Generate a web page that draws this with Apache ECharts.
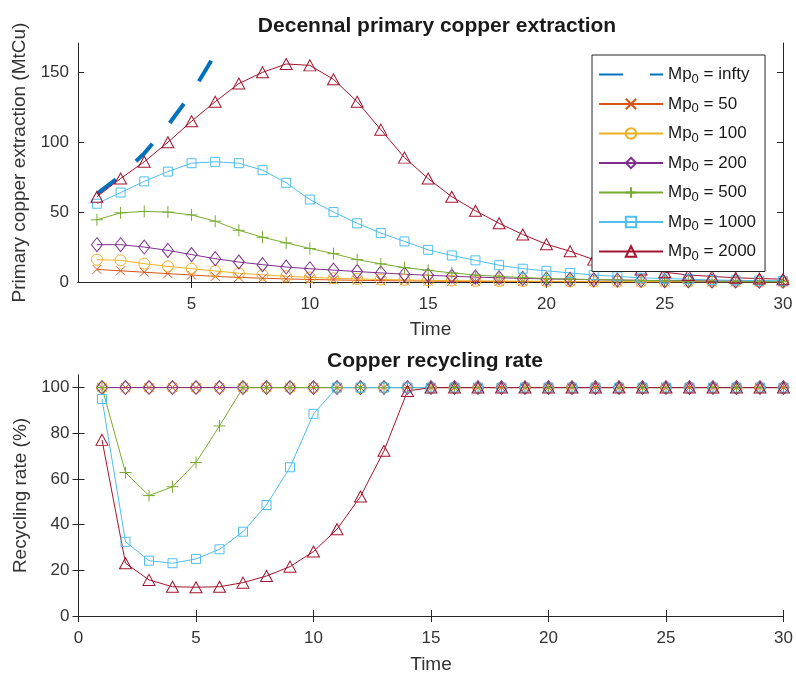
<!DOCTYPE html>
<html>
<head>
<meta charset="utf-8">
<script src="https://cdn.jsdelivr.net/npm/echarts@6/dist/echarts.min.js"></script>
<style>
html,body{margin:0;padding:0;background:#fff;}
#c{width:796px;height:679px;}
</style>
</head>
<body>
<div id="c"></div>
<script>
// ---------- DATA ----------
var time = [1,2,3,4,5,6,7,8,9,10,11,12,13,14,15,16,17,18,19,20,21,22,23,24,25,26,27,28,29,30];
var legendLabels = ['infty','50','100','200','500','1000','2000'];
var topTitle = 'Decennal primary copper extraction';
var bottomTitle = 'Copper recycling rate';
var topXTicks = [5,10,15,20,25,30];
var topYTicks = [0,50,100,150];
var bottomYTicks = [0,20,40,60,80,100];

// Primary copper extraction (MtCu)
var extInfty = [63, 76, 92, 112, 135, 163, 197];
var ext50   = [9, 8, 7, 6, 5, 4, 3.3, 2.7, 2.2, 1.8, 1.5, 1.2, 1, 0.8, 0.65, 0.5, 0.4, 0.35, 0.3, 0.25, 0.2, 0.15, 0.12, 0.1, 0.08, 0.07, 0.06, 0.05, 0.04, 0.03];
var ext100  = [16, 15.5, 13.1, 11.2, 9.5, 7.9, 6.3, 5.1, 4.1, 3.3, 2.7, 2.2, 1.8, 1.5, 1.2, 1, 0.8, 0.7, 0.6, 0.5, 0.4, 0.35, 0.3, 0.25, 0.2, 0.2, 0.15, 0.15, 0.1, 0.1];
var ext200  = [26.7, 26.7, 25, 22.6, 19.6, 16.7, 14.3, 12.4, 10.7, 9.5, 8.5, 7.5, 6.5, 5.6, 4.8, 4.1, 3.5, 3, 2.6, 2.2, 1.9, 1.6, 1.4, 1.2, 1, 0.9, 0.8, 0.7, 0.6, 0.5];
var ext500  = [44.5, 49.5, 50.5, 50, 48, 43.5, 37, 32, 28, 24, 20.3, 16, 13, 10.3, 8.4, 6.5, 5, 4, 3.2, 2.6, 2.1, 1.7, 1.4, 1.1, 0.9, 0.7, 0.6, 0.5, 0.4, 0.3];
var ext1000 = [56, 64, 72, 79, 85, 86, 85, 80, 71, 59, 50, 42, 35, 29, 23, 19, 15.5, 12, 9.5, 8, 6.5, 5, 4, 3, 2.5, 2, 1.5, 1.2, 1, 0.8];
var ext2000 = [61, 74, 86, 100, 115, 129, 142, 150, 156, 155, 145, 129, 109, 89, 74, 61, 51, 42, 34, 27, 22, 16, 12, 9, 7, 5, 4, 3, 2.5, 2];

// Recycling rate (%)
var rec50   = [100,100,100,100,100,100,100,100,100,100,100,100,100,100,100,100,100,100,100,100,100,100,100,100,100,100,100,100,100,100];
var rec100  = [100,100,100,100,100,100,100,100,100,100,100,100,100,100,100,100,100,100,100,100,100,100,100,100,100,100,100,100,100,100];
var rec200  = [100,100,100,100,100,100,100,100,100,100,100,100,100,100,100,100,100,100,100,100,100,100,100,100,100,100,100,100,100,100];
var rec500  = [100, 62.8, 52.7, 56.6, 67.2, 83.2, 100,100,100,100,100,100,100,100,100,100,100,100,100,100,100,100,100,100,100,100,100,100,100,100];
var rec1000 = [95, 32.5, 24.2, 23.1, 25, 29.2, 36.9, 48.6, 65.1, 88.5, 100,100,100,100,100,100,100,100,100,100,100,100,100,100,100,100,100,100,100,100];
var rec2000 = [77.1, 23.1, 15.8, 12.8, 12.6, 12.8, 14.6, 17.5, 21.6, 28.2, 38, 52.3, 72.3, 98.5, 100,100,100,100,100,100,100,100,100,100,100,100,100,100,100,100];

// ---------- STYLE ----------
var FONT = '"Liberation Sans", Arial, Helvetica, sans-serif';
var AX = '#262626';
var TXT = '#333333';
var colors = {
  infty: '#0072BD', m50: '#D95319', m100: '#EDB120', m200: '#7E2F8E',
  m500: '#77AC30', m1000: '#4DBEEE', m2000: '#A2142F'
};
var symbols = {
  m50:  {symbol: 'path://M0,0L10,10M10,0L0,10', size: 9},
  m100: {symbol: 'circle', size: 11},
  m200: {symbol: 'diamond', size: [11,14]},
  m500: {symbol: 'path://M5,0L5,10M0,5L10,5', size: 12},
  m1000:{symbol: 'rect', size: 9},
  m2000:{symbol: 'triangle', size: [12,11]}
};

function pairs(vals) {
  var out = [];
  for (var i = 0; i < vals.length; i++) out.push([time[i], vals[i]]);
  return out;
}
function seriesName(lbl) { return 'Mp0 = ' + lbl; }

function markerSeries(key, lbl, vals, gi) {
  var c = colors[key];
  return {
    type: 'line', name: seriesName(lbl),
    xAxisIndex: gi * 2, yAxisIndex: gi * 2,
    data: pairs(vals),
    symbol: symbols[key].symbol, symbolSize: symbols[key].size,
    showAllSymbol: true,
    lineStyle: {color: c, width: 1},
    itemStyle: {color: 'rgba(255,255,255,0)', borderColor: c, borderWidth: 1},
    emphasis: {disabled: true},
    silent: true, animation: false
  };
}

function xAxes(gi, min, customTicks, nameGap) {
  var base = {
    type: 'value', gridIndex: gi, min: min, max: 30,
    axisLine: {show: true, lineStyle: {color: AX, width: 1}},
    splitLine: {show: false}
  };
  var bottom = Object.assign({}, base, {
    position: 'bottom',
    name: 'Time', nameLocation: 'middle', nameGap: nameGap,
    nameTextStyle: {fontFamily: FONT, fontSize: 19, color: TXT},
    axisTick: {show: true, inside: true, length: 6, lineStyle: {color: AX}},
    axisLabel: {show: true, fontFamily: FONT, fontSize: 17, color: TXT, margin: 14}
  });
  var top = Object.assign({}, base, {
    position: 'top',
    axisTick: {show: true, inside: true, length: 6, lineStyle: {color: AX}},
    axisLabel: {show: false}
  });
  if (customTicks) {
    bottom.axisTick.customValues = customTicks;
    bottom.axisLabel.customValues = customTicks;
    top.axisTick.customValues = customTicks;
  } else {
    bottom.interval = 5; top.interval = 5;
  }
  return [bottom, top];
}
function yAxes(gi, max, ticks, name, nameGap) {
  var base = {
    type: 'value', gridIndex: gi, min: 0, max: max,
    axisLine: {show: true, lineStyle: {color: AX, width: 1}},
    splitLine: {show: false}
  };
  var left = Object.assign({}, base, {
    position: 'left',
    name: name, nameLocation: 'middle', nameGap: nameGap,
    nameTextStyle: {fontFamily: FONT, fontSize: 19, color: TXT},
    axisTick: {show: true, inside: true, length: 6, lineStyle: {color: AX}, customValues: ticks},
    axisLabel: {show: true, fontFamily: FONT, fontSize: 17, color: TXT, margin: 9, customValues: ticks}
  });
  var right = Object.assign({}, base, {
    position: 'right',
    axisTick: {show: true, inside: true, length: 6, lineStyle: {color: AX}, customValues: ticks},
    axisLabel: {show: false}
  });
  return [left, right];
}

var topX = xAxes(0, 0.2, topXTicks, 38);
var botX = xAxes(1, 0, null, 39);
var topY = yAxes(0, 171, topYTicks, 'Primary copper extraction (MtCu)', 42);
var botY = yAxes(1, 105.5, bottomYTicks, 'Recycling rate (%)', 42);

var series = [
  {
    type: 'line', name: seriesName(legendLabels[0]),
    xAxisIndex: 0, yAxisIndex: 0,
    data: pairs(extInfty),
    symbol: 'none', clip: true,
    lineStyle: {color: colors.infty, width: 4, type: [24, 27], cap: 'butt'},
    itemStyle: {color: colors.infty},
    emphasis: {disabled: true}, silent: true, animation: false
  },
  markerSeries('m50', legendLabels[1], ext50, 0),
  markerSeries('m100', legendLabels[2], ext100, 0),
  markerSeries('m200', legendLabels[3], ext200, 0),
  markerSeries('m500', legendLabels[4], ext500, 0),
  markerSeries('m1000', legendLabels[5], ext1000, 0),
  markerSeries('m2000', legendLabels[6], ext2000, 0),
  markerSeries('m50', legendLabels[1], rec50, 1),
  markerSeries('m100', legendLabels[2], rec100, 1),
  markerSeries('m200', legendLabels[3], rec200, 1),
  markerSeries('m500', legendLabels[4], rec500, 1),
  markerSeries('m1000', legendLabels[5], rec1000, 1),
  markerSeries('m2000', legendLabels[6], rec2000, 1)
];

var legendData = legendLabels.map(function (l, i) {
  var item = {name: seriesName(l)};
  if (i === 0) item.itemStyle = {opacity: 0};
  return item;
});

var chart = echarts.init(document.getElementById('c'), null, {renderer: 'canvas'});
chart.setOption({
  animation: false,
  backgroundColor: '#ffffff',
  title: [
    {text: topTitle, left: 432, top: 11, textAlign: 'center',
     textStyle: {fontFamily: FONT, fontSize: 21, fontWeight: 'bold', color: '#1a1a1a'}},
    {text: bottomTitle, left: 430, top: 346, textAlign: 'center',
     textStyle: {fontFamily: FONT, fontSize: 21, fontWeight: 'bold', color: '#1a1a1a'}}
  ],
  grid: [
    {left: 78, right: 13, top: 43, height: 239},
    {left: 78.5, right: 12.5, top: 375, height: 241}
  ],
  xAxis: [topX[0], topX[1], botX[0], botX[1]],
  yAxis: [topY[0], topY[1], botY[0], botY[1]],
  legend: {
    show: true, orient: 'vertical', left: 592, top: 55,
    padding: [11, 9, 9, 6],
    itemWidth: 64, itemHeight: 13, itemGap: 10,
    borderColor: AX, borderWidth: 1, backgroundColor: '#ffffff',
    selectedMode: false,
    data: legendData,
    formatter: function (name) {
      var v = name.split(' = ')[1];
      return '{a|Mp}{s|0}{a| = ' + v + '}';
    },
    textStyle: {
      fontFamily: FONT, fontSize: 17, color: '#1a1a1a',
      rich: {
        a: {fontFamily: FONT, fontSize: 17, color: '#1a1a1a'},
        s: {fontFamily: FONT, fontSize: 13, color: '#1a1a1a', padding: [9, 0, 0, 0]}
      }
    }
  },
  series: series
});
</script>
</body>
</html>
